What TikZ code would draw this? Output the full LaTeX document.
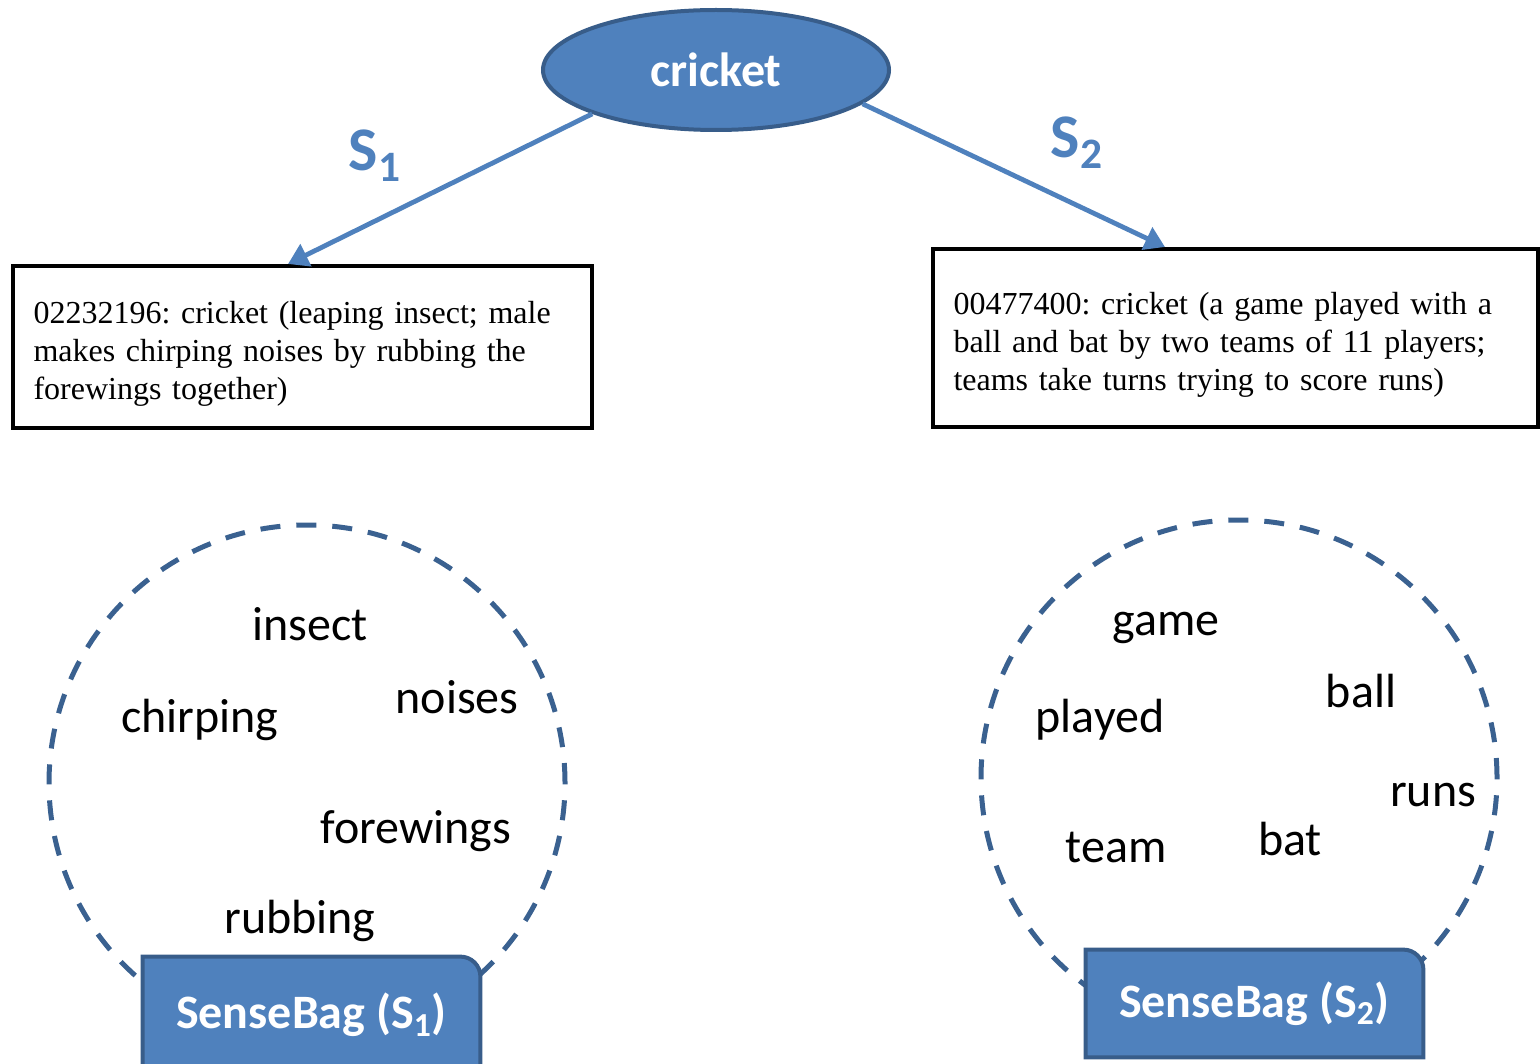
\documentclass[tikz,border=0pt]{standalone}
\usepackage{fontspec}
\setmainfont{Liberation Serif}[WordSpace=0.8]
\newfontfamily\calib{Carlito}
\usepackage{xcolor}
\usetikzlibrary{arrows.meta,calc,shapes.geometric}
\definecolor{cFill}{HTML}{4F81BD}
\definecolor{cEdge}{HTML}{385D8A}
\definecolor{cDash}{HTML}{3A6190}
\frenchspacing

\begin{document}
\begin{tikzpicture}[
  x=0.5pt,y=-0.5pt,
  root/.style={ellipse,draw=cEdge,fill=cFill,line width=2pt,inner sep=0pt,
               minimum width=173pt,minimum height=60pt,
               font=\calib\fontsize{24}{28}\selectfont\bfseries,text=white},
  gloss/.style={draw=black,line width=2pt,align=left,inner sep=0pt,
                font=\fontsize{16}{19}\selectfont},
  ring/.style={circle,draw=cDash,line width=2.5pt,dash pattern=on 10pt off 8pt,
               inner sep=0pt,minimum size=258pt},
  word/.style={anchor=base,font=\calib\fontsize{24}{28}\selectfont,inner sep=0pt},
  bag/.style={inner sep=0pt,font=\calib\fontsize{24}{28}\selectfont\bfseries,text=white},
  bagbox/.style={draw=cEdge,fill=cFill,line width=2pt},
  sar/.style={-{Triangle[length=10pt,width=12pt]},draw=cFill,line width=2.4pt},
  slbl/.style={font=\calib\fontsize{31}{36}\selectfont\bfseries,text=cFill}
]
\useasboundingbox (0,0) rectangle (1540,1064);

% ---- raiz
\node[root] (cricket) at (716,70) {cricket};

% ---- glosas
\node[gloss,minimum width=289.5pt,minimum height=81pt,text width=269pt] (sense1) at (302.5,347)
  {\rule{0pt}{18pt}02232196: cricket (leaping insect; male\\ makes chirping noises by rubbing the\\ forewings together)};
\node[gloss,minimum width=302.5pt,minimum height=89pt,text width=282pt] (sense2) at (1235.5,338)
  {\rule{0pt}{18pt}00477400: cricket (a game played with a\\ ball and bat by two teams of 11 players;\\ teams take turns trying to score runs)};

% ---- setas
\draw[sar] (cricket.south west) -- ([xshift=138.5pt]sense1.north west);
\draw[sar] (cricket.-13) -- ([xshift=117pt]sense2.north west);
\node[slbl] (lblS1) at (375,156) {S\textsubscript{1}};
\node[slbl] (lblS2) at (1077,143) {S\textsubscript{2}};

% ---- sacos
\node[ring] (ring1) at (307,783) {};
\node[ring] (ring2) at (1239,778) {};

\node[word] (wInsect)    at (310,640) {insect};
\node[word] (wChirping)  at (200,732) {chirping};
\node[word] (wNoises)    at (457,713) {noises};
\node[word] (wForewings) at (416,843) {forewings};
\node[word] (wRubbing)   at (300,933) {rubbing};

\node[word] (wGame)   at (1166,635) {game};
\node[word] (wPlayed) at (1100,732) {played};
\node[word] (wBall)   at (1361,707) {ball};
\node[word] (wRuns)   at (1433,806) {runs};
\node[word] (wTeam)   at (1116,862) {team};
\node[word] (wBat)    at (1290,855) {bat};

% ---- rotulos dos sacos
\node[bag,minimum width=168.5pt,minimum height=56pt] (bag1) at (311.5,1013) {};
\node[bag,minimum width=168.5pt,minimum height=53.5pt] (bag2) at (1254.5,1003.5) {};
\draw[bagbox] (bag1.south west) -- (bag1.north west) [rounded corners=10pt] -- (bag1.north east)
  [sharp corners] -- (bag1.south east) -- cycle;
\draw[bagbox] (bag2.south west) -- (bag2.north west) [rounded corners=10pt] -- (bag2.north east)
  [sharp corners] -- (bag2.south east) -- cycle;
\node[bag] (bag1txt) at ([yshift=-1pt]bag1.center) {SenseBag (S\textsubscript{1})};
\node[bag] (bag2txt) at (bag2.center) {SenseBag (S\textsubscript{2})};
\end{tikzpicture}
\end{document}
